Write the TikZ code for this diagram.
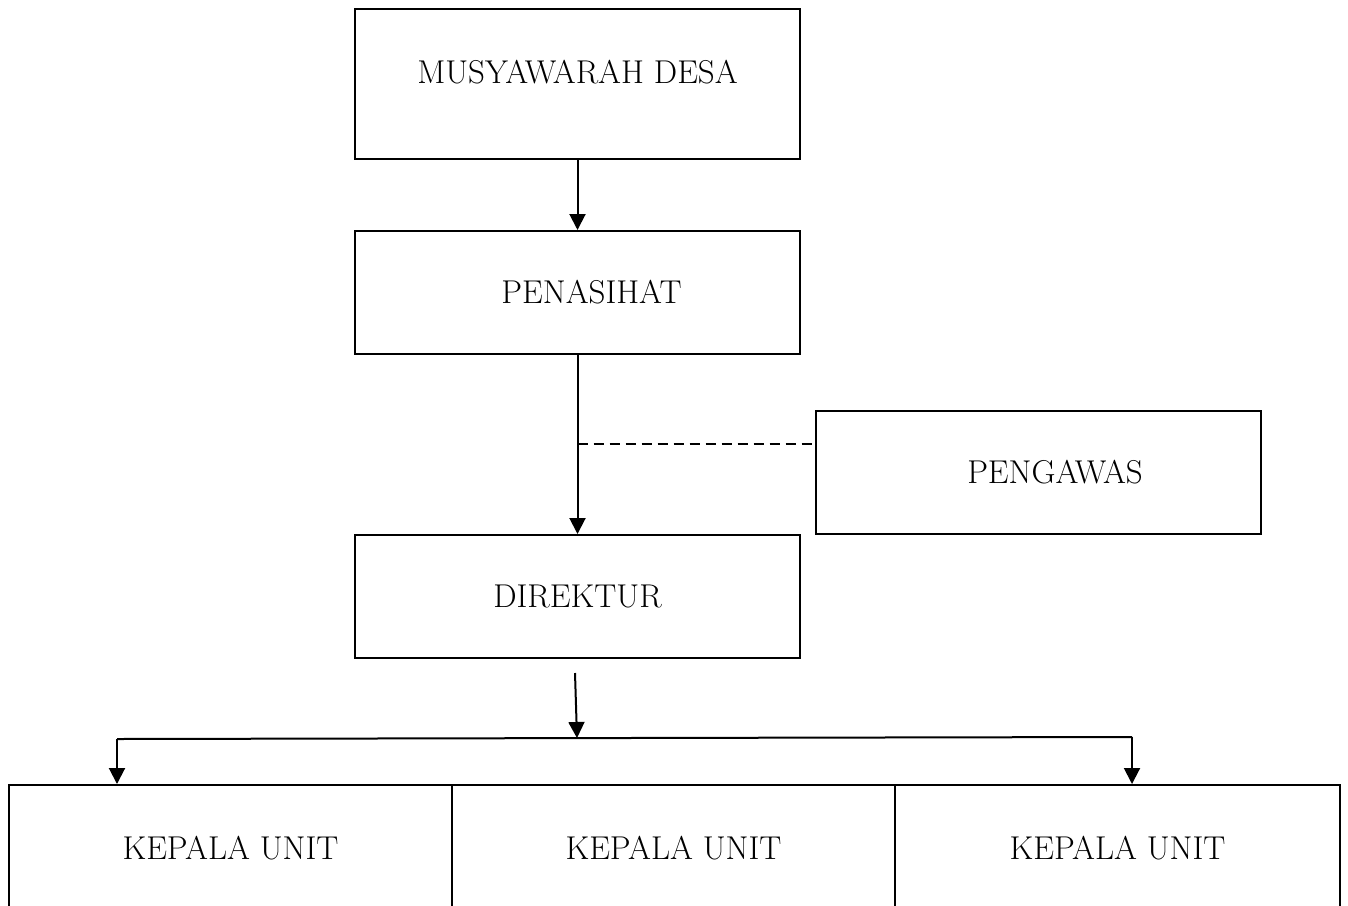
\documentclass[tikz,border=0pt]{standalone}
\usetikzlibrary{arrows.meta}

\begin{document}
\begin{tikzpicture}[x=0.5pt,y=-0.5pt]
  \tikzset{box/.style = {shape=rectangle,draw,line width=1pt,inner sep=0pt,minimum width=222.5pt,minimum height=61.5pt,font=\fontsize{16.5}{20}\selectfont}}
  \tikzset{edge/.style = {line width=1pt,-{Triangle[length=8pt,width=8pt]}}}
  \useasboundingbox (0,0) rectangle (1348,905);

	\node[box,minimum height=75pt,text depth=12.5pt] (M) at (577.5,84) {MUSYAWARAH DESA};
	\node[box] (P) at (577.5,292.5) {\hspace*{14pt}PENASIHAT};
	\node[box] (G) at (1038,472.5) {\hspace*{17pt}PENGAWAS};
	\node[box] (D) at (577.5,596.5) {DIREKTUR};
	\node[box,minimum width=221.5pt,minimum height=63pt] (K1) at (230.5,848) {KEPALA UNIT};
	\node[box,minimum width=221.5pt,minimum height=63pt] (K2) at (673.5,848) {KEPALA UNIT};
	\node[box,minimum width=222.5pt,minimum height=63pt] (K3) at (1117.5,848) {KEPALA UNIT};

	\coordinate (d1) at (575,673);
	\coordinate (d2) at (577,738);
	\coordinate (bl) at (117,739);
	\coordinate (br) at (1132,737);
	\coordinate (p) at (577.5,444);

	\draw[edge] (M) -- (P);
	\draw[edge] (P) -- (D);
	\draw[dashed,line width=0.8pt,dash pattern=on 5pt off 3pt] (p) -- (p -| G.west);
	\draw[edge] (d1) -- (d2);
	\draw[line width=1pt] (bl) -- (br);
	\draw[edge] (bl) -- (bl |- K1.north);
	\draw[edge] (br) -- (br |- K3.north);
\end{tikzpicture}
\end{document}
